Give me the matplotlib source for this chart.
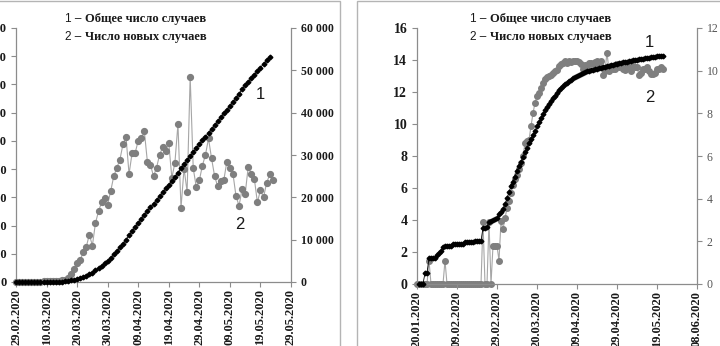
import matplotlib.pyplot as plt
import matplotlib.dates as mdates
import numpy as np
import pandas as pd
from matplotlib.patches import Rectangle
from matplotlib.ticker import FuncFormatter

plt.rcParams['font.family'] = ['Liberation Serif', 'DejaVu Serif']
plt.rcParams['font.weight'] = 'bold'

# ---- left panel: 29.02.2020 - 23.05.2020 ----
left_start = '2020-02-29'
total_cases_k = [0.07, 0.08, 0.1, 0.12, 0.16, 0.22, 0.33, 0.42, 0.55, 0.75, 1.0, 1.3, 1.7, 2.2,
                 2.7, 3.5, 5, 7, 12, 16, 21, 28, 36, 45, 56, 66, 83, 98, 116, 134,
                 152, 172, 195, 219, 245, 272, 300, 331, 360, 390, 420, 450, 478, 505,
                 530, 555, 582, 608, 636, 663, 690, 717, 745, 775, 805, 835, 865, 893,
                 920, 948, 975, 1003, 1030, 1058, 1085, 1112, 1140, 1168, 1195, 1222,
                 1250, 1277, 1305, 1335, 1365, 1395, 1420, 1445, 1470, 1495, 1520, 1545,
                 1570, 1598]
new_cases = [0, 10, 15, 20, 25, 40, 60, 70, 90, 120, 150, 200, 220, 260, 320, 400,
             500, 1000, 1900, 3000, 4600, 5200, 7000, 8300, 11200, 8600,
             13900, 16700, 18800, 19900, 18300, 21500, 25000, 27000, 28900, 32500,
             34300, 25500, 30500, 30500, 33400, 33900, 35600, 28400, 27700, 25000,
             27000, 30100, 31800, 30900, 32800, 24600, 28100, 37300, 17500, 26800,
             21300, 48500, 26900, 22400, 24000, 27500, 30000, 33900, 29200, 25000,
             22600, 23800, 24000, 28400, 27000, 25600, 20300, 18000, 22000, 20800,
             27200, 25600, 24400, 18800, 21700, 20000, 23300, 25400, 24000]
left_xticks = ['2020-02-29', '2020-03-10', '2020-03-20', '2020-03-30', '2020-04-09',
               '2020-04-19', '2020-04-29', '2020-05-09', '2020-05-19', '2020-05-29']
left_yticks = [0, 200000, 400000, 600000, 800000, 1000000, 1200000, 1400000, 1600000, 1800000]
left_y2ticks = [0, 10000, 20000, 30000, 40000, 50000, 60000]

# ---- right panel: ln values, 20.01.2020 - 22.05.2020 ----
total_ln = [0, 0, 0, 0.69, 0.69, 1.61, 1.61, 1.61, 1.61, 1.79, 1.95, 2.08, 2.3,
            2.4, 2.4, 2.4, 2.4, 2.48, 2.48, 2.48, 2.48, 2.48, 2.48,
            2.64, 2.64, 2.64, 2.64, 2.64, 2.7, 2.7, 2.7, 2.7,
            3.5, 3.5, 3.55, 3.9, 3.95, 4.0, 4.05, 4.1,
            4.35, 4.5, 4.7, 5.0, 5.35, 5.75, 6.1, 6.4, 6.7, 7.05, 7.35, 7.65,
            7.96, 8.25, 8.5, 8.8, 9.05, 9.3, 9.55, 9.85, 10.1, 10.35, 10.6, 10.85,
            11.05, 11.25, 11.45, 11.6, 11.78, 11.95, 12.1, 12.25, 12.35, 12.48, 12.58, 12.68,
            12.77, 12.85, 12.95, 13.02, 13.08, 13.14, 13.2, 13.25, 13.3, 13.33, 13.37, 13.4,
            13.43, 13.46, 13.49, 13.52, 13.55, 13.58, 13.61, 13.64, 13.67, 13.7, 13.73, 13.76,
            13.79, 13.82, 13.85, 13.88, 13.9, 13.93, 13.96, 13.98, 14.0, 14.02, 14.04, 14.06,
            14.08, 14.1, 14.12, 14.14, 14.16, 14.18, 14.2, 14.22, 14.24, 14.26, 14.28]
new_ln = [0, 0, 0, 0, 0, 0, 1.1, 0, 0, 0, 0, 0, 0, 0, 1.1,
          0, 0, 0, 0, 0, 0, 0, 0, 0, 0, 0, 0, 0, 0, 0, 0, 0, 0,
          2.9, 0, 0, 2.9, 0, 1.79, 1.79, 1.79, 1.1, 2.94, 2.56, 3.08,
          3.55, 3.9, 4.25, 4.65, 4.9, 5.1, 5.4, 5.65, 6.0, 6.6, 6.7, 6.75, 7.4, 8.0,
          8.5, 8.8, 8.95, 9.2, 9.4, 9.6, 9.7, 9.75, 9.8, 9.9, 10.0, 10.05, 10.2, 10.3,
          10.35, 10.45,
          10.35, 10.45, 10.4, 10.45, 10.45, 10.45, 10.4, 10.3, 10.1, 10.25,
          10.2, 10.35, 10.35, 10.3, 10.4, 10.45, 10.2, 10.45, 9.8, 10.0,
          10.85, 10.0, 10.2, 10.1, 10.1, 10.3, 10.15, 10.2, 10.1, 10.05,
          10.15, 10.15, 10.0, 10.2, 10.15, 10.15, 9.8, 9.9, 10.1, 10.1,
          10.15, 10.0, 9.85, 9.85, 9.9, 10.1, 10.1, 10.15, 10.1]
right_xticks = ['2020-01-20', '2020-02-09', '2020-02-29', '2020-03-20', '2020-04-09',
                '2020-04-29', '2020-05-19', '2020-06-08']

legend_1 = 'Общее число случаев'
legend_2 = 'Число новых случаев'

W, H = 720, 346
AX_GRAY = '#8c8c8c'
TXT = '#1a1a1a'


def fx(px):
    return px / W


def fy(px):
    return 1 - px / H


def space_thousands(v, pos=None):
    return f'{int(round(v)):,}'.replace(',', ' ')


def style_axes(ax, ax2, ysize, y2size):
    for a in (ax, ax2):
        a.set_facecolor('none')
        for s in a.spines.values():
            s.set_color(AX_GRAY)
            s.set_linewidth(0.9)
        a.spines['top'].set_visible(False)
        a.tick_params(colors=AX_GRAY, length=3.5, width=0.8, labelcolor=TXT)
    ax.tick_params(axis='x', labelsize=9, pad=1.5)
    ax.tick_params(axis='y', labelsize=ysize)
    ax2.tick_params(axis='y', labelsize=y2size)
    ax.spines['right'].set_visible(False)
    ax2.spines['left'].set_visible(False)
    ax2.spines['bottom'].set_visible(False)
    ax.xaxis.set_major_formatter(mdates.DateFormatter('%d.%m.%Y'))
    plt.setp(ax.get_xticklabels(), rotation=90)


def legend_text(x_num, x_txt, y, num, txt):
    fig.text(fx(x_num), fy(y), num + ' –', fontsize=8.5, family='Liberation Sans',
             weight='normal', color=TXT, va='center')
    fig.text(fx(x_txt), fy(y), txt, fontsize=9, color=TXT, va='center')


fig = plt.figure(figsize=(W / 100, H / 100), dpi=100)

# panel frames
fig.add_artist(Rectangle((fx(-10), fy(400)), fx(350), fy(1) - fy(400), transform=fig.transFigure,
                         fill=False, edgecolor='#b4b4b4', linewidth=1.0))
fig.add_artist(Rectangle((fx(357), fy(400)), fx(400), fy(1) - fy(400), transform=fig.transFigure,
                         fill=False, edgecolor='#b4b4b4', linewidth=1.0))

# ---- left panel ----
ax = fig.add_axes([fx(16), fy(282), fx(291 - 16), (282 - 28) / H])
ax2 = ax.twinx()
d_total = pd.date_range(left_start, periods=len(total_cases_k))
d_new = pd.date_range(left_start, periods=len(new_cases))
ax2.plot(d_new, new_cases, color='#a6a6a6', linewidth=0.8, marker='o', markersize=4.2,
         markerfacecolor='#7f7f7f', markeredgecolor='#7f7f7f', clip_on=False, zorder=2)
ax.plot(d_total, np.array(total_cases_k) * 1000, color='black', linewidth=0.6, marker='D',
        markersize=2.4, clip_on=False, zorder=3)
ax.set_zorder(ax2.get_zorder() + 1)
ax.set_xlim(pd.Timestamp(left_xticks[0]), pd.Timestamp(left_xticks[-1]))
ax.set_xticks(pd.to_datetime(left_xticks))
ax.set_ylim(0, 1800000)
ax.set_yticks(left_yticks)
ax.yaxis.set_major_formatter(FuncFormatter(space_thousands))
ax2.set_ylim(0, 60000)
ax2.set_yticks(left_y2ticks)
ax2.yaxis.set_major_formatter(FuncFormatter(space_thousands))
style_axes(ax, ax2, 9, 8.5)
ax.text(0.887, 0.74, '1', transform=ax.transAxes, family='Liberation Sans', weight='normal',
        fontsize=12, color=TXT, ha='center', va='center')
ax.text(0.815, 0.228, '2', transform=ax.transAxes, family='Liberation Sans', weight='normal',
        fontsize=12, color=TXT, ha='center', va='center')
legend_text(65, 85, 19, '1', legend_1)
legend_text(65, 85, 37, '2', legend_2)

# ---- right panel ----
bx = fig.add_axes([fx(417), fy(284), fx(697 - 417), (284 - 28) / H])
bx2 = bx.twinx()
d_total_r = pd.date_range('2020-01-21', periods=len(total_ln))
d_new_r = pd.date_range('2020-01-20', periods=len(new_ln))
bx2.plot(d_new_r, new_ln, color='#a6a6a6', linewidth=0.8, marker='o', markersize=4,
         markerfacecolor='#7f7f7f', markeredgecolor='#7f7f7f', clip_on=False, zorder=2)
bx.plot(d_total_r, total_ln, color='black', linewidth=0.6, marker='D', markersize=2.4,
        clip_on=False, zorder=3)
bx.set_zorder(bx2.get_zorder() + 1)
bx.set_xlim(pd.Timestamp(right_xticks[0]), pd.Timestamp(right_xticks[-1]))
bx.set_xticks(pd.to_datetime(right_xticks))
bx.set_ylim(0, 16)
bx.set_yticks(range(0, 17, 2))
bx2.set_ylim(0, 12)
bx2.set_yticks(range(0, 13, 2))
style_axes(bx, bx2, 10, 8.5)
bx2.tick_params(labelcolor='#555555')
for lab in bx2.get_yticklabels():
    lab.set_fontweight('normal')
bx.text(0.83, 0.945, '1', transform=bx.transAxes, family='Liberation Sans', weight='normal',
        fontsize=12, color=TXT, ha='center', va='center')
bx.text(0.83, 0.73, '2', transform=bx.transAxes, family='Liberation Sans', weight='normal',
        fontsize=12, color=TXT, ha='center', va='center')
legend_text(470, 490, 19, '1', legend_1)
legend_text(470, 490, 37, '2', legend_2)

fig.savefig('out.png', dpi=100, facecolor='white')
